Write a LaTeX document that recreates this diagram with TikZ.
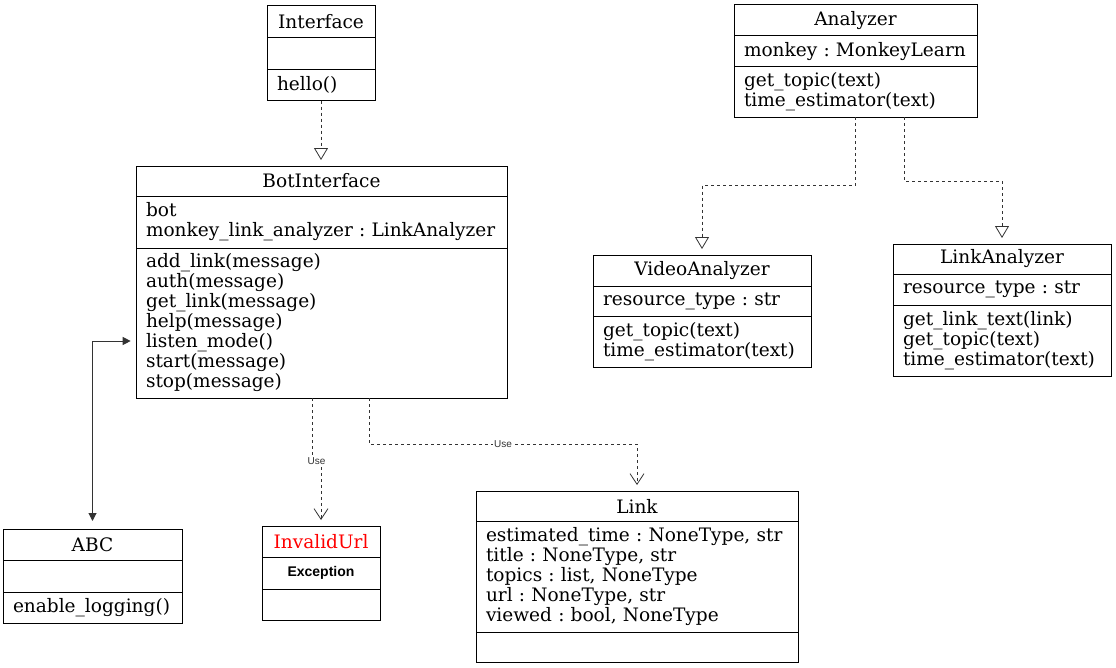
\documentclass[tikz,border=0pt]{standalone}
\usepackage{fontspec}
\setmainfont{DejaVu Serif}
\setsansfont{Liberation Sans}
\usetikzlibrary{arrows.meta, positioning, calc}
\definecolor{edgegray}{RGB}{51,51,51}
\definecolor{urlred}{RGB}{255,0,0}

\begin{document}
\begin{tikzpicture}[
    x=0.75pt, y=-0.75pt,
    every node/.style={font=\fontsize{13.9}{15}\selectfont},
    part/.style={rectangle, draw=black, line width=0.75pt, outer sep=0pt, inner xsep=7.5pt, inner ysep=0pt},
    head/.style={part, anchor=north, align=center},
    slot/.style={part, align=left},
    realize/.style={edgegray, line width=0.6pt, dash pattern=on 2.25pt off 2.25pt, -{Triangle[open, length=9pt, width=10.5pt]}, shorten >=4.5pt},
    depend/.style={edgegray, line width=0.6pt, dash pattern=on 2.25pt off 2.25pt, -{Straight Barb[length=8pt, width=10.5pt]}, shorten >=4.5pt},
    assoc/.style={edgegray, line width=0.75pt, {Triangle[length=6pt, width=6pt]}-{Triangle[length=6pt, width=6pt]}, shorten <=4pt, shorten >=6pt},
    uselbl/.style={fill=white, inner sep=0.5pt, font=\fontsize{7.5}{8}\sffamily}
]
\useasboundingbox (0,0) rectangle (1116,667);

% Interface
\node[head, minimum width=81pt, minimum height=23.5pt] (iface) at (321,6) {Interface};
\node[slot, text width=66pt, minimum height=24pt, below=0pt of iface] (iface-a) {};
\node[slot, text width=66pt, minimum height=23.5pt, below=0pt of iface-a] (iface-m) {hello()};

% Analyzer
\node[head, minimum width=182.25pt, minimum height=23.25pt] (ana) at (855.5,5) {Analyzer};
\node[slot, text width=167.25pt, minimum height=23.25pt, below=0pt of ana] (ana-a) {monkey~:~MonkeyLearn};
\node[slot, text width=167.25pt, minimum height=37.5pt, below=0pt of ana-a] (ana-m) {get\_topic(text)\\time\_estimator(text)};

% BotInterface
\node[head, minimum width=278.25pt, minimum height=22.5pt] (bot) at (321.5,166) {BotInterface};
\node[slot, text width=263.25pt, minimum height=39pt, below=0pt of bot] (bot-a) {bot\\monkey\_link\_analyzer~:~LinkAnalyzer};
\node[slot, text width=263.25pt, minimum height=112.5pt, below=0pt of bot-a] (bot-m) {add\_link(message)\\auth(message)\\get\_link(message)\\help(message)\\listen\_mode()\\start(message)\\stop(message)};

% VideoAnalyzer
\node[head, minimum width=163.5pt, minimum height=23.25pt] (va) at (702,255) {VideoAnalyzer};
\node[slot, text width=148.5pt, minimum height=22.5pt, below=0pt of va] (va-a) {resource\_type~:~str};
\node[slot, text width=148.5pt, minimum height=38.25pt, below=0pt of va-a] (va-m) {get\_topic(text)\\time\_estimator(text)};

% LinkAnalyzer
\node[head, minimum width=163.5pt, minimum height=22.5pt] (la) at (1002,244) {LinkAnalyzer};
\node[slot, text width=148.5pt, minimum height=23.25pt, below=0pt of la] (la-a) {resource\_type~:~str};
\node[slot, text width=148.5pt, minimum height=53.25pt, below=0pt of la-a] (la-m) {get\_link\_text(link)\\get\_topic(text)\\time\_estimator(text)};

% ABC
\node[head, minimum width=134.25pt, minimum height=23.25pt] (abc) at (92.5,529) {ABC};
\node[slot, text width=119.25pt, minimum height=24pt, below=0pt of abc] (abc-a) {};
\node[slot, text width=119.25pt, minimum height=23.25pt, below=0pt of abc-a] (abc-m) {enable\_logging()};

% InvalidUrl
\node[head, minimum width=88.5pt, minimum height=23.25pt, text=urlred] (inv) at (321,526) {InvalidUrl};
\node[slot, text width=73.5pt, minimum height=24pt, align=center, font=\fontsize{10.5}{12}\sffamily\bfseries, below=0pt of inv] (inv-a) {Exception};
\node[slot, text width=73.5pt, minimum height=23.25pt, below=0pt of inv-a] (inv-m) {};

% Link
\node[head, minimum width=241.5pt, minimum height=22.5pt] (link) at (637,491) {Link};
\node[slot, text width=226.5pt, minimum height=83.25pt, below=0pt of link] (link-a) {estimated\_time~:~NoneType,~str\\title~:~NoneType,~str\\topics~:~list,~NoneType\\url~:~NoneType,~str\\viewed~:~bool,~NoneType};
\node[slot, text width=226.5pt, minimum height=22.5pt, below=0pt of link-a] (link-m) {};

% Realizations
\draw[realize] (iface-m.south) -- (iface-m.south |- bot.north);
\draw[realize] (ana-m.south) -- ++(0,68) -| (va.north);
\draw[realize] ($(ana-m.south)+(48.5,0)$) -- ++(0,64) -| (la.north);

% Dependencies
\draw[depend] ($(bot-m.south)+(-9.5,0)$) -- ++(0,63) -| node[uselbl, pos=0.25] {Use} (inv.north);
\draw[depend] ($(bot-m.south)+(47.5,0)$) -- ++(0,46) -| node[uselbl, pos=0.25] {Use} (link.north);

% Association
\draw[assoc] ($(bot-m.west)+(0,18)$) -| (abc.north);

\end{tikzpicture}
\end{document}
